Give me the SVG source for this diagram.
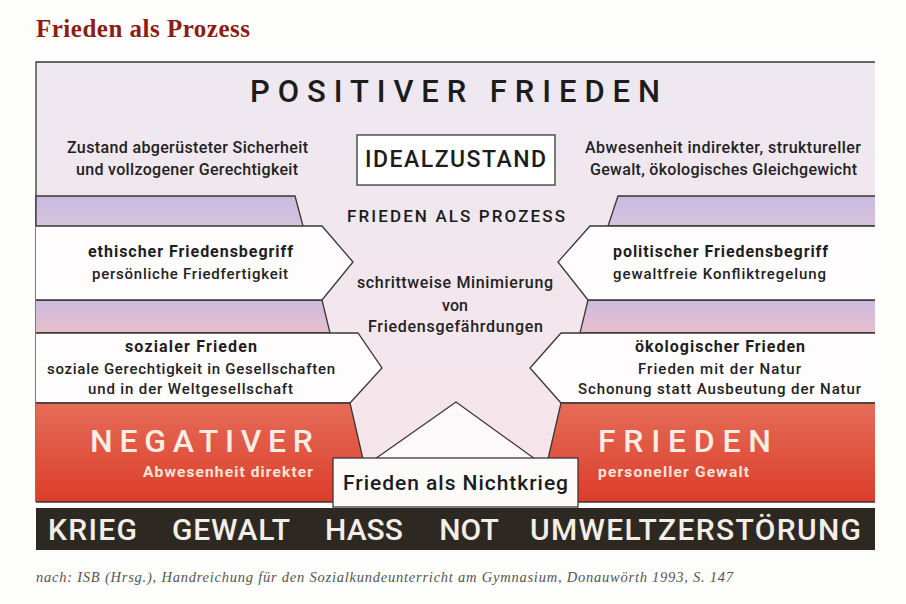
<svg xmlns="http://www.w3.org/2000/svg" width="906" height="604" viewBox="0 0 906 604">
  <defs>
    <linearGradient id="gBg" x1="0" y1="0" x2="0" y2="1">
      <stop offset="0" stop-color="#eee8f1"/>
      <stop offset="1" stop-color="#f6e5e9"/>
    </linearGradient>
    <linearGradient id="gLav1" x1="0" y1="0" x2="0" y2="1">
      <stop offset="0" stop-color="#c9badf"/>
      <stop offset="1" stop-color="#d7c3df"/>
    </linearGradient>
    <linearGradient id="gLav2" x1="0" y1="0" x2="0" y2="1">
      <stop offset="0" stop-color="#cbbbe0"/>
      <stop offset="1" stop-color="#e8bfcb"/>
    </linearGradient>
    <linearGradient id="gRed" x1="0" y1="0" x2="0" y2="1">
      <stop offset="0" stop-color="#e46d58"/>
      <stop offset="1" stop-color="#dc3d2a"/>
    </linearGradient>
    <style>
      .sans { font-family: Roboto, "DejaVu Sans", sans-serif; }
      .hd { font-weight: 500; fill: #1c1c1c; }
      .txt { font-size: 16px; font-weight: 500; fill: #222; }
      .bold { font-size: 16px; font-weight: 700; fill: #1e1e1e; }
      .reg { font-size: 15px; font-weight: 500; fill: #222; }
      .edge { stroke: #3a3636; stroke-width: 1.3; stroke-linejoin: miter; }
      .white { fill: #fefcfc; }
      .neg { font-size: 32px; font-weight: 500; fill: #fbece4; }
      .negsub { font-size: 15.5px; font-weight: 700; fill: #f9e4da; }
      .bar { font-size: 30px; font-weight: 500; fill: #f4eee8; }
    </style>
  </defs>

  <rect x="0" y="0" width="906" height="604" fill="#fdfdfb"/>

  <g id="title">
    <text x="36" y="37" font-family="'Liberation Serif', serif" font-weight="700" font-size="25" fill="#8c1d14" textLength="214">Frieden als Prozess</text>
  </g>

  <g id="frame">
    <rect x="36" y="62" width="839" height="440" fill="url(#gBg)"/>
    <path class="edge" d="M875,62 H36 V502" fill="none"/>
  </g>

  <g id="positiver-frieden">
    <text class="sans hd" x="250" y="102" font-size="31" textLength="410">POSITIVER FRIEDEN</text>
  </g>

  <g id="idealzustand">
    <rect class="edge" x="357" y="135" width="198" height="50" fill="#ffffff"/>
    <text class="sans hd" x="365" y="167" font-size="23" textLength="181">IDEALZUSTAND</text>
  </g>

  <g id="beschreibung-links">
    <text class="sans txt" x="67" y="153" textLength="241">Zustand abgerüsteter Sicherheit</text>
    <text class="sans txt" x="76" y="175" textLength="222">und vollzogener Gerechtigkeit</text>
  </g>

  <g id="beschreibung-rechts">
    <text class="sans txt" x="585" y="153" textLength="276">Abwesenheit indirekter, struktureller</text>
    <text class="sans txt" x="590" y="175" textLength="267">Gewalt, ökologisches Gleichgewicht</text>
  </g>

  <g id="baender">
    <path class="edge" d="M36,226 V196 H295 L303,226" fill="url(#gLav1)"/>
    <path class="edge" d="M875,196 H618 L608,226 H875" fill="url(#gLav1)"/>
    <path class="edge" d="M36,300 H322 L330,333 H36" fill="url(#gLav2)"/>
    <path class="edge" d="M875,300 H588 L580,333 H875" fill="url(#gLav2)"/>
  </g>

  <g id="ethischer-friedensbegriff">
    <path class="edge white" d="M36,226 H322 L353,262 L322,300 H36"/>
    <text class="sans bold" x="88" y="257" textLength="205">ethischer Friedensbegriff</text>
    <text class="sans reg" x="92" y="279" textLength="196">persönliche Friedfertigkeit</text>
  </g>

  <g id="politischer-friedensbegriff">
    <path class="edge white" d="M875,226 H590 L558,262 L588,300 H875"/>
    <text class="sans bold" x="613" y="257" textLength="215">politischer Friedensbegriff</text>
    <text class="sans reg" x="613" y="279" textLength="213">gewaltfreie Konfliktregelung</text>
  </g>

  <g id="sozialer-frieden">
    <path class="edge white" d="M36,333 H358 L382,368 L350,403 H36"/>
    <text class="sans bold" x="125" y="352" textLength="132">sozialer Frieden</text>
    <text class="sans reg" x="47" y="374" textLength="288">soziale Gerechtigkeit in Gesellschaften</text>
    <text class="sans reg" x="88" y="394" textLength="205">und in der Weltgesellschaft</text>
  </g>

  <g id="oekologischer-frieden">
    <path class="edge white" d="M875,333 H561 L530,368 L561,403 H875"/>
    <text class="sans bold" x="635" y="352" textLength="170">ökologischer Frieden</text>
    <text class="sans reg" x="638" y="374" textLength="163">Frieden mit der Natur</text>
    <text class="sans reg" x="578" y="394" textLength="283">Schonung statt Ausbeutung der Natur</text>
  </g>

  <g id="frieden-als-prozess">
    <text class="sans hd" x="347" y="222" font-size="17" textLength="218">FRIEDEN ALS PROZESS</text>
    <text class="sans txt" x="357" y="288" textLength="196">schrittweise Minimierung</text>
    <text class="sans txt" x="455" y="311" text-anchor="middle">von</text>
    <text class="sans txt" x="368" y="332" textLength="175">Friedensgefährdungen</text>
  </g>

  <g id="negativer-frieden">
    <path class="edge" d="M36,403 H350 L373,502 H36" fill="url(#gRed)"/>
    <path class="edge" d="M875,403 H561 L538,502 H875" fill="url(#gRed)"/>
    <text class="sans neg" x="90" y="452" textLength="223">NEGATIVER</text>
    <text class="sans negsub" x="143" y="477" textLength="170">Abwesenheit direkter</text>
    <text class="sans neg" x="598" y="452" textLength="173">FRIEDEN</text>
    <text class="sans negsub" x="598" y="477" textLength="151">personeller Gewalt</text>
  </g>

  <g id="connectors">
    <path class="edge" d="M375,459 L456,402 L535,459" fill="#fdf9fa"/>
  </g>

  <g id="nichtkrieg">
    <rect class="edge" x="333" y="458" width="245" height="49" fill="#fdfbfa"/>
    <text class="sans hd" x="343" y="490" font-size="21" textLength="225">Frieden als Nichtkrieg</text>
  </g>

  <g id="bedrohungen">
    <rect x="36" y="508" width="839" height="42" fill="#2e2822"/>
    <text class="sans bar" x="48" y="540" textLength="89">KRIEG</text>
    <text class="sans bar" x="172" y="540" textLength="118">GEWALT</text>
    <text class="sans bar" x="325" y="540" textLength="78">HASS</text>
    <text class="sans bar" x="469" y="540" text-anchor="middle">NOT</text>
    <text class="sans bar" x="530" y="540" textLength="331">UMWELTZERSTÖRUNG</text>
  </g>

  <g id="quelle">
    <text x="36" y="582" font-family="'Liberation Serif', serif" font-style="italic" font-size="14.5" fill="#555" textLength="697">nach: ISB (Hrsg.), Handreichung für den Sozialkundeunterricht am Gymnasium, Donauwörth 1993, S. 147</text>
  </g>
</svg>
